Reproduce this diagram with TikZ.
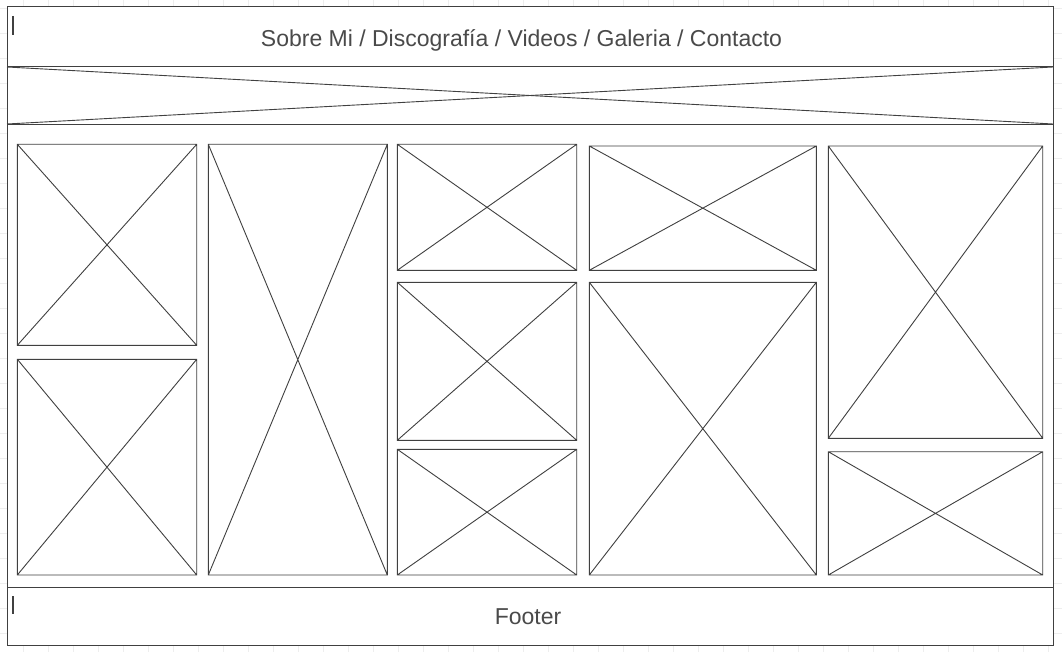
\documentclass[tikz,border=0pt]{standalone}
\usepackage{fontspec}
\setmainfont{Liberation Sans}
\definecolor{wire}{HTML}{404040}
\definecolor{wiretext}{HTML}{4A4A4A}
\definecolor{gridline}{HTML}{EEEEEE}
\tikzset{
  frame/.style={draw=wire, line width=1pt, fill=white},
  ph/.style={draw=wire, line width=0.9pt},
  cursor/.style={draw=wire, line width=1.6pt},
  label/.style={text=wiretext, font=\fontsize{23}{28}\selectfont, inner sep=0pt, anchor=base}
}
\begin{document}
\begin{tikzpicture}[x=1pt, y=-1pt]
            \useasboundingbox (0,0) rectangle (1062,652);
            % background grid
            \foreach \gx in {23,48,...,1048} \draw[gridline, line width=0.8pt] (\gx,0) -- (\gx,652);
            \foreach \gy in {8,33,...,633} \draw[gridline, line width=0.8pt] (0,\gy) -- (1062,\gy);
            % page frame
            \draw[frame] (7,7) rectangle (1053,645);
            \draw[frame] (7,67) -- (1053,67);
            \draw[frame] (7,125) -- (1053,125);
            \draw[frame] (7,587) -- (1053,587);
            % banner
            \draw[ph] (7,67) -- (1053,124);
            \draw[ph] (7,124) -- (1053,67);
            % menu and footer
            \node[label] (menu) at (521.5,46.8) {Sobre Mi / Discografía / Videos / Galeria / Contacto};
            \node[label] (foot) at (528,624) {Footer};
            \draw[cursor] (12.7,16) -- (12.7,35);
            \draw[cursor] (12.7,596) -- (12.7,614);
            % image placeholders
            \foreach \l/\t/\r/\b in {17.3/144.3/196.7/345.3, 17.3/359.3/196.7/575,
                                     208.3/144.3/387.3/575,
                                     397.3/144.3/576.7/270.3, 397.3/282.3/576.7/440.3, 397.3/449.3/576.7/575,
                                     589.3/146/816.3/270.3, 589.3/282.3/816.3/575,
                                     828.3/146/1042.7/438.3, 828.3/451.7/1042.7/575}
                \draw[ph] (\l,\t) rectangle (\r,\b) (\l,\t) -- (\r,\b) (\l,\b) -- (\r,\t);
        \end{tikzpicture}
\end{document}
